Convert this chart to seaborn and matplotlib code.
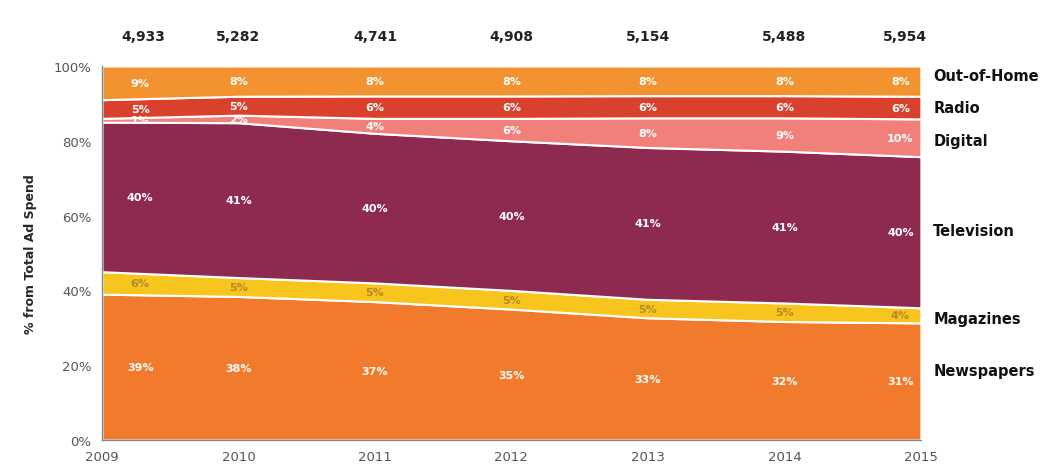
import numpy as np
import matplotlib
matplotlib.use("Agg")
import matplotlib.pyplot as plt
import seaborn as sns

# data (shares in %, bottom layer first)
years = [2009, 2010, 2011, 2012, 2013, 2014, 2015]
totals = ["4,933", "5,282", "4,741", "4,908", "5,154", "5,488", "5,954"]
newspapers = [39, 38, 37, 35, 33, 32, 31]
magazines = [6, 5, 5, 5, 5, 5, 4]
television = [40, 41, 40, 40, 41, 41, 40]
digital = [1, 2, 4, 6, 8, 9, 10]
radio = [5, 5, 6, 6, 6, 6, 6]
out_of_home = [9, 8, 8, 8, 8, 8, 8]

media = ["Newspapers", "Magazines", "Television", "Digital", "Radio", "Out-of-Home"]
colors = ["#F27A2C", "#F7C51E", "#8E2A50", "#F2807A", "#D9412C", "#F2932F"]
label_colors = ["white", "#b48a2a", "white", "white", "white", "white"]

sns.set_style("white")
plt.rcParams["font.family"] = ["DejaVu Sans"]

shares = np.array([newspapers, magazines, television, digital, radio, out_of_home], dtype=float)
shares = shares / shares.sum(axis=0) * 100  # labels are rounded, stack to 100
cum = np.cumsum(shares, axis=0)

fig = plt.figure(figsize=(10.58, 4.77), dpi=100)
ax = fig.add_axes([0.0964, 0.0755, 0.774, 0.784])

ax.stackplot(years, shares, colors=colors, edgecolor="white", linewidth=1.5)

# in-layer percentage labels
xoff = [0.28] + [0] * 5 + [-0.15]
raw = [newspapers, magazines, television, digital, radio, out_of_home]
for k in range(len(media)):
    for i, yr in enumerate(years):
        mid = cum[k, i] - shares[k, i] / 2
        ax.text(yr + xoff[i], mid, f"{raw[k][i]}%", color=label_colors[k],
                fontsize=8, fontweight="bold", ha="center", va="center")

# totals on top
toff = [0.3] + [0] * 5 + [-0.12]
for i, yr in enumerate(years):
    ax.text(yr + toff[i], 108, totals[i], fontsize=10, fontweight="semibold",
            ha="center", va="center", color="#222222")

# series names on the right
label_y = [18.5, 32.5, 56, 80, 89, 97.5]
for name, y in zip(media, label_y):
    ax.text(2015.09, y, name, fontsize=10.5, fontweight="bold", ha="left",
            va="center", color="#111111")

ax.set_xlim(2009, 2015)
ax.set_ylim(0, 100)
ax.set_xticks(years)
ax.set_yticks([0, 20, 40, 60, 80, 100])
ax.set_yticklabels(["0%", "20%", "40%", "60%", "80%", "100%"])
ax.tick_params(axis="both", labelsize=9.5, colors="#555555", length=4, direction="out")
ax.tick_params(axis="both", color="#7a8a9a")
ax.set_ylabel("% from Total Ad Spend", fontsize=9, fontweight="bold", labelpad=12)
for s in ["top", "right"]:
    ax.spines[s].set_visible(False)
for s in ["left", "bottom"]:
    ax.spines[s].set_color("#7a8a9a")
    ax.spines[s].set_linewidth(1)
    ax.spines[s].set_zorder(5)

fig.savefig("out.png", dpi=100)
